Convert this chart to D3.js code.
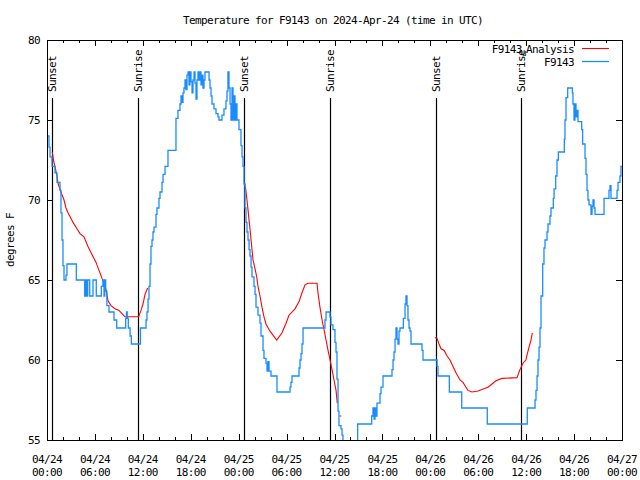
<!DOCTYPE html>
<html><head><meta charset="utf-8">
<script src="https://cdn.jsdelivr.net/npm/d3@7"></script>
<style>
body{margin:0;background:#fff}
text{font-family:"DejaVu Sans Mono","Liberation Mono",monospace;font-size:11px;letter-spacing:-0.62px;fill:#000}
</style>
</head><body>
<svg id="chart" width="640" height="480"></svg>
<script>
// ---- data ----
const titleText = "Temperature for F9143 on 2024-Apr-24 (time in UTC)";
const yLabel = "degrees F";
const yTicks = [55, 60, 65, 70, 75, 80];
const majorHours = [0, 6, 12, 18, 24, 30, 36, 42, 48, 54, 60, 66, 72];
const minorHours = d3.range(0, 73, 2);
const xTickDates = ["04/24","04/24","04/24","04/24","04/25","04/25","04/25","04/25","04/26","04/26","04/26","04/26","04/27"];
const xTickTimes = ["00:00","06:00","12:00","18:00","00:00","06:00","12:00","18:00","00:00","06:00","12:00","18:00","00:00"];
const sunHours = [0.66, 11.43, 24.7, 35.47, 48.71, 59.39];
const sunLabels = ["Sunset","Sunrise","Sunset","Sunrise","Sunset","Sunrise"];

// observations F9143 (hours since 04/24 00:00 UTC, degrees F)
const obsHours = [0,0.25,0.38,0.63,1.0,1.25,1.63,1.75,1.88,2.0,2.13,2.38,2.5,3.67,4.72,4.85,4.97,5.1,5.35,5.76,6.17,6.8,7.0,7.14,7.23,7.35,7.5,7.76,8.39,8.73,9.85,9.95,10.05,10.18,10.4,10.56,11.7,12.4,12.52,12.65,12.77,12.9,13.02,13.15,13.27,13.4,13.65,13.77,14.02,14.15,14.4,14.53,14.78,15.15,16.15,16.4,16.65,16.78,16.9,17.03,17.15,17.28,17.4,17.53,17.66,17.78,17.9,18.03,18.16,18.28,18.41,18.53,18.66,18.78,18.91,19.03,19.16,19.28,19.41,19.53,19.66,19.78,20.29,20.41,20.54,20.66,20.91,21.16,21.41,21.53,21.91,22.16,22.41,22.54,22.66,22.79,22.92,23.04,23.17,23.29,23.42,23.54,23.67,23.79,24.04,24.29,24.42,24.54,24.67,24.79,24.92,25.04,25.17,25.3,25.42,25.55,25.67,25.92,26.05,26.17,26.42,26.67,26.8,27.05,27.17,27.42,27.55,27.67,27.8,28.05,28.8,30.43,30.55,30.68,31.56,31.68,31.81,31.93,32.06,34.81,34.94,35.44,35.56,35.81,36.06,36.19,36.31,36.44,36.56,36.81,36.94,37.06,37.2,38.9,40.66,40.82,40.95,41.07,41.2,41.32,41.7,41.82,42.07,43.2,43.33,43.45,43.58,43.7,43.83,43.95,44.08,44.2,44.62,44.83,44.95,45.08,45.2,45.33,45.45,45.58,46.96,47.08,48.84,48.96,50.38,51.93,55.13,60.14,61.11,61.23,61.36,61.48,61.61,61.73,61.86,62.07,62.23,62.36,62.61,62.73,62.98,63.11,63.4,63.49,63.7,63.86,64.03,64.78,64.86,64.99,65.2,65.78,65.86,65.99,66.11,66.24,66.37,66.49,66.95,67.07,67.37,67.49,67.62,67.74,67.87,68.12,68.25,68.37,68.5,68.62,69.75,70.37,70.5,70.62,71.38,71.5,71.75,71.87,72.0];
const obsTemps = [74.0,73.3,72.7,72.1,71.7,71.1,70.6,69.2,67.5,65.9,65.0,65.3,66.0,65.0,64.0,65.0,64.0,65.0,64.0,65.0,64.0,64.6,65.0,64.0,65.0,64.3,63.4,63.0,62.5,62.0,62.6,63.0,62.6,62.0,61.5,61.0,62.0,62.5,63.0,63.8,64.6,66.0,67.1,67.5,68.0,68.3,69.1,69.5,70.1,70.5,71.1,71.6,72.1,73.1,75.1,75.6,76.0,76.5,76.1,76.7,77.0,77.5,76.9,77.8,78.0,77.2,78.0,77.4,76.7,77.5,78.0,77.3,76.3,77.5,78.0,77.5,78.0,77.2,77.8,77.0,77.5,78.0,77.5,77.0,76.5,76.0,75.7,75.4,75.2,75.0,75.3,75.7,76.2,76.8,78.0,77.0,76.0,75.0,77.0,75.0,76.5,75.0,76.0,75.0,74.4,73.4,72.7,72.1,71.0,69.5,68.6,68.0,67.5,66.9,66.5,65.8,65.2,64.6,64.1,63.3,62.8,62.3,61.5,60.6,60.1,59.8,59.3,59.9,59.3,59.0,58.0,58.3,58.6,59.0,59.5,60.0,60.4,61.0,62.0,62.5,63.0,62.7,62.2,61.9,61.1,60.5,58.8,56.8,55.9,55.7,55.3,54.5,54.0,56.0,56.5,57.0,56.3,57.0,56.5,57.3,57.9,58.3,59.0,59.4,60.0,60.5,61.3,62.0,61.3,61.0,61.8,62.0,62.6,63.5,64.0,63.4,62.5,62.0,61.8,61.0,60.6,60.0,59.6,59.0,58.0,57.0,56.0,57.0,57.5,58.1,59.0,60.0,60.8,62.0,64.0,66.0,67.0,67.5,68.0,68.5,69.0,69.5,70.1,70.7,71.5,72.5,73.0,73.8,75.0,76.4,77.0,76.7,76.0,75.0,76.0,75.2,75.6,74.9,74.4,73.5,72.6,71.6,70.6,70.0,69.7,69.1,69.6,70.0,69.5,69.1,70.1,70.6,70.9,70.1,70.6,71.1,71.5,72.1,72.1];

// analysis F9143 (NaN = gap)
const anaHours = [0.66,0.85,1.0,1.25,1.4,1.75,2.13,2.38,2.63,3.26,3.63,4.13,4.63,5.13,5.63,6.14,6.51,6.89,7.14,7.39,7.64,8.01,8.51,9.02,9.39,9.77,10.52,11.48,11.77,12.02,12.27,12.61,
  12.8,
  24.71,24.88,25.04,25.17,25.33,25.46,25.55,25.67,25.8,26.05,26.26,26.42,26.67,26.92,27.17,27.42,27.92,28.76,29.43,29.93,30.3,31.05,31.56,31.93,32.31,32.68,33.81,33.93,34.18,34.44,34.69,34.94,35.19,35.44,35.69,35.94,36.19,36.35,
  36.45,
  36.6,36.85,
  37.0,
  48.58,48.84,49.09,49.34,49.72,50.1,50.46,50.84,51.21,51.71,52.09,52.46,52.71,53.21,53.96,54.71,55.21,55.72,56.22,56.97,58.85,59.22,59.6,59.97,60.1,60.36,60.61,60.77];
const anaTemps = [73.0,72.4,72.1,71.5,71.0,70.5,70.0,69.5,69.2,68.6,68.3,67.9,67.7,67.1,66.6,66.1,65.6,65.1,64.8,64.4,63.7,63.4,63.2,63.1,62.9,62.7,62.7,62.7,63.1,63.5,64.1,64.5,
  NaN,
  71.1,70.7,70.0,69.4,68.6,68.0,67.5,66.9,66.25,65.7,65.2,64.6,64.0,63.3,62.7,62.25,61.8,61.25,61.7,62.3,62.8,63.2,63.65,64.2,64.7,64.8,64.8,64.2,63.3,62.5,61.9,61.25,60.6,60.0,59.4,58.75,58.1,57.3,
  NaN,
  56.5,56.5,
  NaN,
  61.4,61.35,61.0,60.7,60.6,60.25,60.0,59.6,59.2,58.75,58.6,58.3,58.1,58.0,58.06,58.2,58.3,58.5,58.7,58.85,58.9,59.4,59.8,60.0,60.3,60.8,61.25,61.7];

// ---- drawing ----
const svg = d3.select("#chart");
const L = 47, R = 622, T = 40, B = 440;
const x = d3.scaleLinear().domain([0, 72]).range([L, R]);
const y = d3.scaleLinear().domain([55, 80]).range([B, T]);
const blue = "#1a8cff", red = "#ff0000";

svg.append("rect").attr("width", 640).attr("height", 480).attr("fill", "#fff");

svg.append("defs").append("clipPath").attr("id", "clip")
  .append("rect").attr("x", L).attr("y", T).attr("width", R - L).attr("height", B - T);

// title
svg.append("text").attr("x", 333).attr("y", 24).attr("text-anchor", "middle").text(titleText);
// y label
svg.append("text").attr("transform", "translate(14,240) rotate(-90)").attr("text-anchor", "middle").text(yLabel);

// axes ticks
function tickAxis(axis, tr) {
  const g = svg.append("g").attr("transform", tr).call(axis);
  g.select(".domain").remove();
  g.selectAll(".tick line").attr("stroke", "#000").attr("shape-rendering", "crispEdges");
  return g;
}
tickAxis(d3.axisBottom(x).tickValues(minorHours).tickSize(-3).tickFormat(""), `translate(0,${B})`);
tickAxis(d3.axisBottom(x).tickValues(majorHours).tickSize(-6).tickFormat(""), `translate(0,${B})`);
tickAxis(d3.axisTop(x).tickValues(minorHours).tickSize(-3).tickFormat(""), `translate(0,${T})`);
tickAxis(d3.axisTop(x).tickValues(majorHours).tickSize(-6).tickFormat(""), `translate(0,${T})`);
const gy = tickAxis(d3.axisLeft(y).tickValues(yTicks).tickSize(-6).tickPadding(7).tickFormat(d3.format("d")), `translate(${L},0)`);
gy.selectAll("text").attr("font-family", null).attr("font-size", null).attr("dy", "0.35em");
tickAxis(d3.axisRight(y).tickValues(yTicks).tickSize(-6).tickFormat(""), `translate(${R},0)`);

// x tick labels (two lines)
const xl = svg.append("g");
majorHours.forEach((h, i) => {
  xl.append("text").attr("x", x(h)).attr("y", 463).attr("text-anchor", "middle").text(xTickDates[i]);
  xl.append("text").attr("x", x(h)).attr("y", 476).attr("text-anchor", "middle").text(xTickTimes[i]);
});

// sun lines
const sg = svg.append("g");
sunHours.forEach((h, i) => {
  sg.append("line").attr("x1", Math.round(x(h)) + 0.5).attr("x2", Math.round(x(h)) + 0.5)
    .attr("y1", 98).attr("y2", B).attr("stroke", "#000").attr("stroke-width", 1.2);
  sg.append("text").attr("transform", `translate(${x(h)},92) rotate(-90)`)
    .attr("text-anchor", "start").attr("dy", "0.35em").text(sunLabels[i]);
});

// lines
const obs = obsHours.map((h, i) => [h, obsTemps[i]]);
const ana = anaHours.map((h, i) => [h, anaTemps[i]]);
const plot = svg.append("g").attr("clip-path", "url(#clip)");
plot.append("path").datum(ana)
  .attr("d", d3.line().defined(d => !isNaN(d[1])).x(d => x(d[0])).y(d => y(d[1])))
  .attr("fill", "none").attr("stroke", red).attr("stroke-width", 1.1);
plot.append("path").datum(obs)
  .attr("d", d3.line().curve(d3.curveStepAfter).x(d => x(d[0])).y(d => y(d[1])))
  .attr("fill", "none").attr("stroke", blue).attr("stroke-width", 1.3);

// border
svg.append("rect").attr("x", L + 0.5).attr("y", T + 0.5).attr("width", R - L).attr("height", B - T)
  .attr("fill", "none").attr("stroke", "#000").attr("stroke-width", 1);

// legend
const lg = svg.append("g");
const t1 = lg.append("text").attr("x", 574).attr("y", 53).attr("text-anchor", "end");
t1.append("tspan").text("F9143");
t1.append("tspan").attr("font-size", "8px").attr("dy", 3).text("u");
t1.append("tspan").attr("dy", -3).text("Analysis");
lg.append("line").attr("x1", 582).attr("x2", 609).attr("y1", 48.5).attr("y2", 48.5).attr("stroke", red).attr("stroke-width", 1.1);
lg.append("text").attr("x", 574).attr("y", 66).attr("text-anchor", "end").text("F9143");
lg.append("line").attr("x1", 582).attr("x2", 609).attr("y1", 61.5).attr("y2", 61.5).attr("stroke", blue).attr("stroke-width", 1.3);
</script>
</body></html>
